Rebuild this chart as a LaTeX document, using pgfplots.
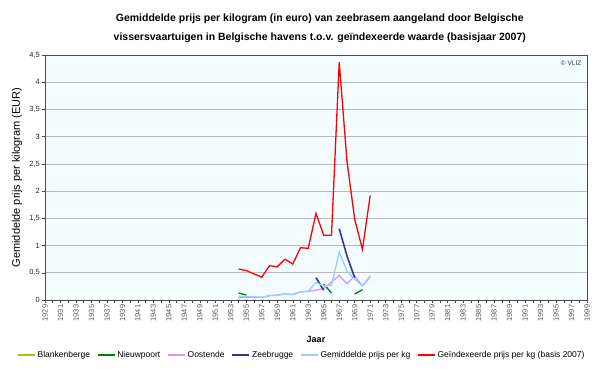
\documentclass[border=0pt]{standalone}
\usepackage{fontspec}
\setmainfont{Liberation Sans}
\usepackage{pgfplots}
\pgfplotsset{compat=1.18}
\definecolor{cblank}{HTML}{99CC00}
\definecolor{cnieuw}{HTML}{008000}
\definecolor{coost}{HTML}{CC99FF}
\definecolor{czee}{HTML}{333399}
\definecolor{cgem}{HTML}{99CCFF}
\definecolor{cind}{HTML}{FF0000}
\definecolor{cbg}{HTML}{F5FCFF}
\begin{document}
\begin{tikzpicture}
\path[use as bounding box] (0,0) rectangle (600pt,368pt);
\begin{axis}[
  at={(45pt,68pt)}, anchor=south west,
  scale only axis, width=542pt, height=245pt,
  xmin=1929, xmax=1999, ymin=0, ymax=4.5,
  xtick={1929,1931,...,1999},
  minor xtick={1930,1932,...,1998},
  ytick={0,0.5,...,4.5},
  ymajorgrids,
  major grid style={draw=gray!55, line width=0.7pt},
  tick align=outside, tick pos=left,
  major tick length=3pt, minor tick length=3pt,
  every tick/.style={draw=gray!60!black, line width=0.5pt},
  axis line style={draw=gray!60!black, line width=0.6pt},
  axis background/.style={fill=cbg},
  /pgf/number format/.cd, use comma, 1000 sep={}, assume math mode=true,
  /pgfplots/.cd,
  xticklabel style={rotate=90, anchor=east, font=\fontsize{7.5}{7.5}\selectfont, text=gray!70!black, inner sep=1.5pt},
  yticklabel style={font=\fontsize{7.5}{7.5}\selectfont, text=gray!30!black, inner sep=2pt},
  xlabel={Jaar},
  xlabel style={at={(axis description cs:0.5,-0.163)}, anchor=center, font=\bfseries\fontsize{9}{9}\selectfont},
  ylabel={Gemiddelde prijs per kilogram (EUR)},
  ylabel style={at={(axis description cs:-0.0517,0.5)}, anchor=center, font=\fontsize{11}{11}\selectfont},
  title={Gemiddelde prijs per kilogram (in euro) van zeebrasem aangeland door Belgische\\vissersvaartuigen in Belgische havens t.o.v. geïndexeerde waarde (basisjaar 2007)},
  title style={at={(axis description cs:0.507,1.083)}, anchor=center, align=center, font=\bfseries\fontsize{10.5}{19}\selectfont},
  unbounded coords=jump,
  legend columns=6,
  legend style={at={(axis description cs:0.474,-0.2245)}, anchor=center, draw=none, fill=none, font=\fontsize{8.5}{8.5}\selectfont, /tikz/every even column/.append style={column sep=5pt}},
  legend image code/.code={\draw[#1] (0pt,0pt) -- (17pt,0pt);},
  every axis plot/.append style={line width=1.3pt, mark=none},
]
\addlegendimage{cblank}
\addlegendentry{Blankenberge}
\addplot[cnieuw] coordinates {(1954,0.13) (1955,0.09) (1956,nan) (1965,0.29) (1966,0.13) (1967,nan) (1969,0.11) (1970,0.19)};
\addlegendentry{Nieuwpoort}
\addplot[coost] coordinates {(1954,0.04) (1955,0.05) (1956,0.05) (1957,0.05) (1958,0.08) (1959,0.09) (1960,0.11) (1961,0.10) (1962,0.15) (1963,0.16) (1964,0.18) (1965,0.21) (1966,0.33) (1967,0.45) (1968,0.30) (1969,0.44) (1970,0.26) (1971,0.42)};
\addlegendentry{Oostende}
\addplot[czee, line width=1.6pt] coordinates {(1964,0.41) (1965,0.18) (1966,nan) (1967,1.31) (1968,0.81) (1969,0.41)};
\addlegendentry{Zeebrugge}
\addplot[cgem] coordinates {(1954,0.07) (1955,0.06) (1956,0.06) (1957,0.05) (1958,0.08) (1959,0.09) (1960,0.11) (1961,0.10) (1962,0.15) (1963,0.16) (1964,0.32) (1965,0.26) (1966,0.27) (1967,0.88) (1968,0.53) (1969,0.38) (1970,0.26) (1971,0.45)};
\addlegendentry{Gemiddelde prijs per kg}
\addplot[cind] coordinates {(1954,0.57) (1955,0.54) (1956,0.48) (1957,0.42) (1958,0.63) (1959,0.61) (1960,0.75) (1961,0.66) (1962,0.96) (1963,0.95) (1964,1.59) (1965,1.19) (1966,1.19) (1967,4.37) (1968,2.55) (1969,1.48) (1970,0.93) (1971,1.92)};
\addlegendentry{Geïndexeerde prijs per kg (basis 2007)}
\node[anchor=east, font=\fontsize{6.5}{6.5}\selectfont, text=gray!40!black] at (axis description cs:0.996,0.967) {© VLIZ};
\end{axis}
\end{tikzpicture}
\end{document}
